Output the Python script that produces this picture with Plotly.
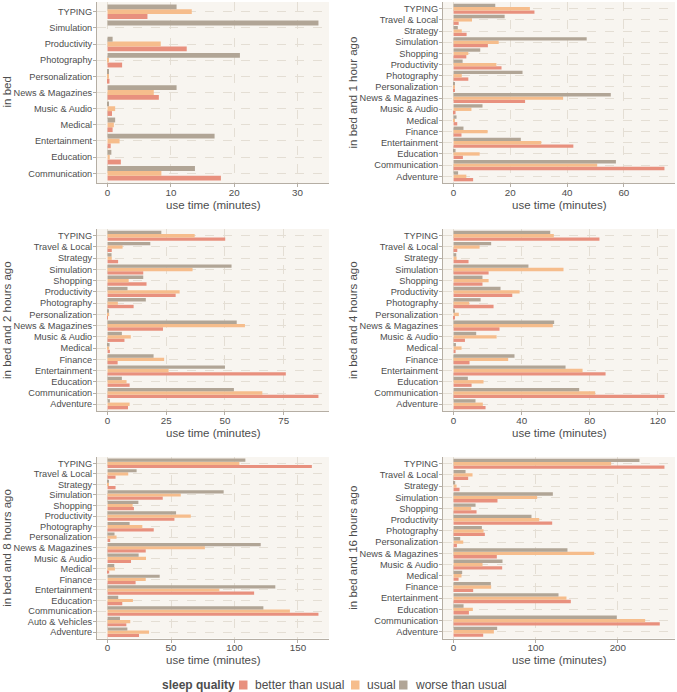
import plotly.graph_objects as go

# ---------------- data ----------------
QUALITY = ["better than usual", "usual", "worse than usual"]
COLORS = ["#E8907E", "#F6BD8C", "#B1A596"]
LEGEND_TITLE = "sleep quality"

# categories, bottom -> top
CATS_BED = ["Communication", "Education", "Entertainment", "Medical", "Music & Audio",
            "News & Magazines", "Personalization", "Photography", "Productivity",
            "Simulation", "TYPING"]
CATS_16 = ["Adventure", "Communication", "Education", "Entertainment", "Finance", "Medical",
           "Music & Audio", "News & Magazines", "Personalization", "Photography",
           "Productivity", "Shopping", "Simulation", "Strategy", "Travel & Local", "TYPING"]
CATS_17 = ["Adventure", "Auto & Vehicles", "Communication", "Education", "Entertainment",
           "Finance", "Medical", "Music & Audio", "News & Magazines", "Personalization",
           "Photography", "Productivity", "Shopping", "Simulation", "Strategy",
           "Travel & Local", "TYPING"]

# in bed
BED_BETTER = [17.9, 2.1, 0.5, 0.8, 0.7, 8.1, 0.3, 2.3, 12.5, 0, 6.3]
BED_USUAL = [8.5, 0.35, 1.9, 1.0, 1.2, 7.3, 0.1, 0.2, 8.4, 0, 13.3]
BED_WORSE = [13.8, 0.6, 16.9, 1.2, 0.1, 10.9, 0.15, 20.9, 0.8, 33.3, 10.9]

# in bed and 1 hour ago
H1_BETTER = [6.9, 74.3, 3.3, 42.2, 2.8, 1.3, 0.7, 25.2, 0.25, 5.2, 16.9, 4.5, 12.1, 4.6, 1.8, 28.5]
H1_USUAL = [4.5, 50.6, 9.2, 30.9, 12.0, 0.5, 6.3, 38.6, 0.35, 2.9, 15.1, 5.2, 15.9, 2.9, 6.5, 26.9]
H1_WORSE = [1.6, 57.2, 0.7, 23.7, 3.5, 1.05, 10.2, 55.4, 0.5, 24.3, 3.2, 9.4, 46.9, 1.5, 18.0, 14.7]

# in bed and 2 hours ago
H2_BETTER = [8.7, 89.8, 9.4, 75.9, 4.3, 1.0, 7.2, 23.6, 0.15, 11.1, 29.0, 16.6, 15.2, 4.5, 1.8, 50.1]
H2_USUAL = [9.4, 65.9, 8.1, 26.0, 24.1, 0.7, 9.9, 58.5, 0.7, 4.4, 30.7, 9.0, 36.2, 1.8, 6.4, 37.1]
H2_WORSE = [1.0, 53.8, 6.1, 50.0, 19.6, 0.85, 6.1, 55.0, 0.4, 16.3, 8.5, 15.2, 52.8, 1.7, 18.2, 22.9]

# in bed and 4 hours ago
H4_BETTER = [18.8, 123.9, 10.6, 89.3, 9.4, 1.2, 6.7, 27.0, 0.4, 23.5, 34.5, 17.0, 20.6, 8.8, 2.2, 85.7]
H4_USUAL = [17.2, 83.2, 17.6, 75.8, 32.1, 4.7, 25.3, 58.3, 3.1, 9.2, 38.8, 20.6, 64.6, 1.8, 15.3, 58.9]
H4_WORSE = [12.9, 73.8, 8.4, 65.8, 35.8, 1.4, 13.3, 59.1, 0.8, 15.9, 27.6, 17.0, 44.0, 1.6, 22.1, 56.8]

# in bed and 8 hours ago
H8_BETTER = [24.8, 14.8, 166.2, 11.6, 115.5, 22.1, 1.3, 18.5, 30.1, 2.1, 36.4, 52.7, 20.8, 43.5, 6.3, 6.3, 161.0]
H8_USUAL = [32.7, 17.9, 143.7, 20.0, 88.1, 30.1, 5.8, 30.3, 76.7, 7.1, 27.4, 65.6, 19.8, 57.7, 0.5, 16.3, 103.9]
H8_WORSE = [15.6, 9.8, 122.8, 8.4, 132.2, 41.1, 5.3, 24.5, 120.7, 5.5, 17.4, 54.0, 24.3, 91.5, 1.0, 22.9, 108.6]

# in bed and 16 hours ago
H16_BETTER = [36.1, 251.1, 18.7, 142.8, 23.9, 6.1, 59.2, 52.7, 4.1, 38.1, 120.1, 28.0, 53.5, 7.3, 17.8, 256.8]
H16_USUAL = [49.1, 233.3, 23.5, 137.5, 45.8, 9.7, 35.3, 171.2, 11.8, 36.5, 104.3, 21.5, 101.8, 3.7, 23.1, 191.9]
H16_WORSE = [53.1, 198.8, 12.2, 127.8, 45.4, 10.5, 59.6, 138.7, 8.1, 34.5, 94.9, 26.8, 120.9, 2.0, 14.6, 226.4]

PANEL_TITLES = ["in bed", "in bed and 1 hour ago", "in bed and 2 hours ago",
                "in bed and 4 hours ago", "in bed and 8 hours ago", "in bed and 16 hours ago"]
X_TITLE = "use time (minutes)"
X_DTICKS = [10, 20, 25, 40, 50, 100]

PANELS = [
    (CATS_BED, BED_BETTER, BED_USUAL, BED_WORSE),
    (CATS_16, H1_BETTER, H1_USUAL, H1_WORSE),
    (CATS_16, H2_BETTER, H2_USUAL, H2_WORSE),
    (CATS_16, H4_BETTER, H4_USUAL, H4_WORSE),
    (CATS_17, H8_BETTER, H8_USUAL, H8_WORSE),
    (CATS_16, H16_BETTER, H16_USUAL, H16_WORSE),
]

# ---------------- layout ----------------
W, H = 677, 692
COL_X = [(97, 329), (443, 675)]
ROW_Y = [(2, 183), (229, 411), (457, 638.5)]
FONT = "Liberation Sans, Arial, Helvetica, sans-serif"
TXT = "#4D4D4D"
BG = "#F8F5F0"
GRID = "#E4DED4"
AXLINE = "#B5AEA4"

fig = go.Figure()
annotations = []
shapes = []
for i, ((cats, b, u, w), title, dt) in enumerate(zip(PANELS, PANEL_TITLES, X_DTICKS)):
    r, c = divmod(i, 2)
    n = i + 1
    xa = "x" if n == 1 else f"x{n}"
    ya = "y" if n == 1 else f"y{n}"
    for name, vals, col in zip(QUALITY, [b, u, w], COLORS):
        fig.add_trace(go.Bar(
            x=vals, y=cats, orientation="h", name=name,
            marker=dict(color=col, line=dict(width=0)),
            xaxis=xa, yaxis=ya, legendgroup=name, showlegend=False,
        ))
    x0, x1 = COL_X[c]
    y0, y1 = ROW_Y[r]
    vmax = max(b + u + w)
    xkey = "xaxis" if n == 1 else f"xaxis{n}"
    ykey = "yaxis" if n == 1 else f"yaxis{n}"
    fig.update_layout(**{
        xkey: dict(
            domain=[x0 / W, x1 / W], anchor=ya, automargin=False,
            range=[-0.05 * vmax, 1.05 * vmax], dtick=dt, tick0=0,
            showgrid=True, gridcolor=GRID, griddash="dash", gridwidth=0.7,
            zeroline=False, showline=True, linecolor=AXLINE, linewidth=1,
            ticks="outside", ticklen=3, tickcolor=AXLINE, ticklabelstandoff=-3,
            tickfont=dict(size=9.8, color=TXT, family=FONT),
            fixedrange=True,
        ),
        ykey: dict(
            domain=[1 - y1 / H, 1 - y0 / H], anchor=xa, automargin=False,
            type="category", categoryorder="array", categoryarray=cats,
            range=[-0.6, len(cats) - 0.4], tickmode="linear", tick0=0, dtick=1,
            showgrid=True, gridcolor=GRID, griddash="dash", gridwidth=0.7,
            zeroline=False, showline=True, linecolor=AXLINE, linewidth=1,
            ticks="outside", ticklen=3, tickcolor=AXLINE, ticklabelstandoff=-1,
            tickfont=dict(size=9.2, color=TXT, family=FONT),
            fixedrange=True,
        ),
    })
    # y title
    annotations.append(dict(
        text=title, xref="paper", yref="paper",
        x=(x0 - 90) / W, y=1 - (y0 + y1) / 2 / H,
        textangle=-90, showarrow=False, xanchor="center", yanchor="middle",
        font=dict(size=11.5, color=TXT, family=FONT),
    ))
    # x title
    annotations.append(dict(
        text=X_TITLE, xref="paper", yref="paper",
        x=(x0 + x1) / 2 / W, y=1 - (y1 + 21.5) / H,
        showarrow=False, xanchor="center", yanchor="middle",
        font=dict(size=11.5, color=TXT, family=FONT),
    ))

# legend (drawn as text + key squares)
LEG_Y = 685
annotations.append(dict(
    text="<b>" + LEGEND_TITLE + "</b>", xref="paper", yref="paper",
    x=160 / W, y=1 - LEG_Y / H, xanchor="left", yanchor="middle", showarrow=False,
    font=dict(size=12, color=TXT, family=FONT),
))
KEY_X = [239, 351, 399]
for kx, name, col in zip(KEY_X, QUALITY, COLORS):
    shapes.append(dict(
        type="rect", xref="paper", yref="paper",
        x0=kx / W, x1=(kx + 8.5) / W, y0=1 - (LEG_Y + 4.5) / H, y1=1 - (LEG_Y - 4.5) / H,
        fillcolor=col, line=dict(width=0),
    ))
    annotations.append(dict(
        text=name, xref="paper", yref="paper",
        x=(kx + 13.5) / W, y=1 - LEG_Y / H, xanchor="left", yanchor="middle", showarrow=False,
        font=dict(size=12, color=TXT, family=FONT),
    ))

fig.update_layout(
    width=W, height=H,
    margin=dict(l=0, r=0, t=0, b=0),
    paper_bgcolor="white", plot_bgcolor=BG,
    barmode="group", bargap=0.1, bargroupgap=0,
    font=dict(family=FONT, color=TXT),
    annotations=annotations, shapes=shapes,
    showlegend=False,
)

fig.write_html(
    "out.html",
    config={"displayModeBar": False},
    post_script="document.body.style.margin='0';document.body.style.overflow='hidden';",
)
